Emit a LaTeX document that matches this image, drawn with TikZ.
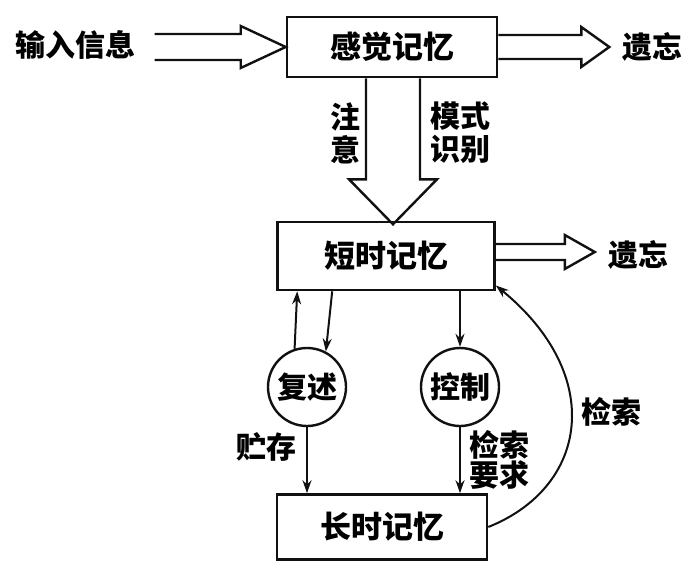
\documentclass[tikz,border=0pt]{standalone}
\usepackage{fontspec}
\newfontfamily\cjk{Noto Sans CJK SC}
\usepackage{xcolor}
\definecolor{cInk}{HTML}{111111}
\usepackage{tikz}
\usetikzlibrary{positioning,arrows.meta,calc}
\tikzset{
  node-box/.style={draw=cInk,line width=2.6pt,minimum height=60pt,
    minimum width=210pt,inner sep=0pt,font=\cjk\bfseries\fontsize{31}{33}\selectfont},
  node-loop/.style={draw=cInk,line width=2.4pt,circle,minimum size=78pt,
    inner sep=0pt,font=\cjk\bfseries\fontsize{30}{33}\selectfont},
  label-heavy/.style={inner sep=0pt,align=center,
    font=\cjk\bfseries\fontsize{30}{33}\selectfont},
  label-plain/.style={inner sep=0pt,align=center,
    font=\cjk\bfseries\fontsize{30}{30}\selectfont},
  arrow-hollow/.style={draw=cInk,line width=2.4pt,line join=miter},
  arrow/.style={-{Stealth[length=13pt,width=9pt]},draw=cInk,line width=2pt},
}

\begin{document}
\begin{tikzpicture}[x=1pt,y=-1pt]
  \useasboundingbox (0,0) rectangle (693,570);
  % memory stores
  \node[node-box] (sense) at (392,47) {感觉记忆};
  \node[node-box,minimum width=217pt,minimum height=68pt] (stm) at (386,256) {短时记忆};
  \node[node-box,minimum height=65pt] (ltm) at (382,527) {长时记忆};
  \node[node-loop] (reh) at (307,387) {复述};
  \node[node-loop] (ctl) at (460,387) {控制};
  % labels
  \node[label-heavy] (input) at (75,45) {输入信息};
  \node[label-heavy] (forget-a) at (652,47) {遗忘};
  \node[label-heavy] (forget-b) at (638,255) {遗忘};
  \node[label-heavy] (attend) at (345,133) {注\\意};
  \node[label-heavy] (pattern) at (460,133) {模式\\识别};
  \node[label-plain] (store) at (266,447) {贮存};
  \node[label-plain] (request) at (499,460) {检索\\要求};
  \node[label-heavy] (retrieve) at (611,412) {检索};
  % hollow arrows
  \draw[arrow-hollow] (sense.west) ++(-131,-13) -- ++(86,0) -- ++(0,-8) -- ++(45,21)
    -- ++(-45,21) -- ++(0,-8) -- ++(-86,0);
  \draw[arrow-hollow] (sense.east) ++(0,-12) -- ++(83,0) -- ++(0,-8) -- ++(28,20)
    -- ++(-28,20) -- ++(0,-8) -- ++(-83,0);
  \draw[arrow-hollow] (sense.south) ++(-26,0) -- ++(0,101) -- ++(-17,0) -- ++(44,45)
    -- ++(44,-45) -- ++(-17,0) -- ++(0,-101);
  \draw[arrow-hollow] (stm.east) ++(0,-12) -- ++(69,0) -- ++(0,-9) -- ++(30,17)
    -- ++(-30,17) -- ++(0,-9) -- ++(-69,0);
  % thin arrows
  \draw[arrow] (reh.108) -- ($(stm.south west)+(21,0)$);
  \draw[arrow] ($(stm.south west)+(56,0)$) -- (reh.62);
  \draw[arrow] (ctl.north |- stm.south) -- (ctl.north);
  \draw[arrow] (reh.south) -- (reh.south |- ltm.north);
  \draw[arrow] (ctl.south) -- (ctl.south |- ltm.north);
  \draw[arrow] (ltm.east) .. controls +(100,-40) and +(110,90) .. (stm.-15);
\end{tikzpicture}
\end{document}
